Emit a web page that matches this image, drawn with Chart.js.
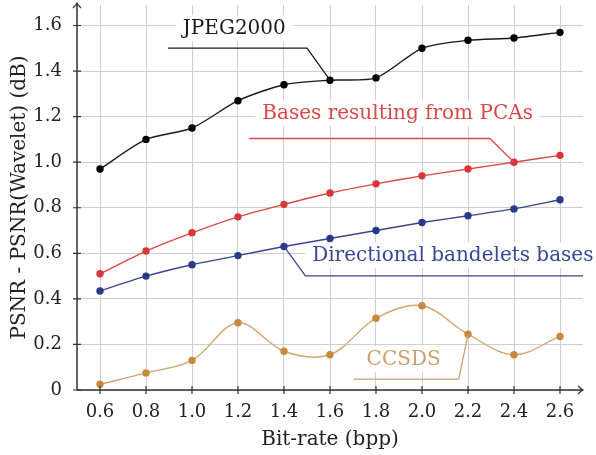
<!DOCTYPE html>
<html>
<head>
<meta charset="utf-8">
<script src="https://cdn.jsdelivr.net/npm/chart.js@4/dist/chart.umd.min.js"></script>
<style>
  html, body { margin: 0; padding: 0; background: #fff; }
  #wrap { width: 596px; height: 455px; position: relative; }
</style>
</head>
<body>
<div id="wrap"><canvas id="chart"></canvas></div>
<script>
// values
const bitRates = [0.6, 0.8, 1.0, 1.2, 1.4, 1.6, 1.8, 2.0, 2.2, 2.4, 2.6];
const jpeg2000 = [0.97, 1.10, 1.15, 1.27, 1.34, 1.36, 1.37, 1.50, 1.535, 1.545, 1.57];
const pcaBases = [0.51, 0.61, 0.69, 0.76, 0.815, 0.865, 0.905, 0.94, 0.97, 1.0, 1.03];
const bandelets = [0.435, 0.50, 0.55, 0.59, 0.63, 0.665, 0.70, 0.735, 0.765, 0.795, 0.835];
const ccsds = [0.025, 0.075, 0.13, 0.295, 0.17, 0.155, 0.315, 0.37, 0.245, 0.155, 0.235];

const xTicks = [0.6, 0.8, 1.0, 1.2, 1.4, 1.6, 1.8, 2.0, 2.2, 2.4, 2.6];
const xTickLabels = ["0.6", "0.8", "1.0", "1.2", "1.4", "1.6", "1.8", "2.0", "2.2", "2.4", "2.6"];
const yTicks = [0, 0.2, 0.4, 0.6, 0.8, 1.0, 1.2, 1.4, 1.6];
const yTickLabels = ["0", "0.2", "0.4", "0.6", "0.8", "1.0", "1.2", "1.4", "1.6"];

const FONT = "'DejaVu Serif', 'Liberation Serif', serif";
const AXIS = "#333";

function series(values) {
    return values.map((v, i) => ({ x: bitRates[i], y: v }));
}

function ds(label, values, color, pointColor, tension) {
    return {
        label, data: series(values),
        borderColor: color, backgroundColor: pointColor,
        pointBackgroundColor: pointColor, pointBorderColor: pointColor,
        borderWidth: 1.4, pointRadius: 3, pointHoverRadius: 3,
        tension, fill: false,
    };
}

// callouts: text centre, leader path (data units), last point is the marker
const callouts = [
    { text: "JPEG2000", color: "#1a1a1a", line: "#1a1a1a", at: [1.184, 1.588],
      path: [[0.896, 1.501], [1.50, 1.501], [1.6, 1.36]] },
    { text: "Bases resulting from PCAs", color: "#d94848", line: "#e04848", at: [1.894, 1.215],
      path: [[1.249, 1.104], [2.295, 1.104], [2.4, 1.0]] },
    { text: "Directional bandelets bases", color: "#3a4794", line: "#3a4690", at: [2.134, 0.592],
      path: [[2.70, 0.501], [1.493, 0.501], [1.4, 0.63]] },
    { text: "CCSDS", color: "#c9a06e", line: "#d0a070", at: [1.92, 0.136],
      path: [[1.702, 0.048], [2.16, 0.048], [2.2, 0.245]] },
];

const calloutPlugin = {
    id: "callouts",
    beforeDatasetsDraw(chart) {
        const { ctx, scales: { x, y } } = chart;
        ctx.save();
        ctx.font = `20px ${FONT}`;
        callouts.forEach(c => {
            const w = ctx.measureText(c.text).width + 14;
            const cx = x.getPixelForValue(c.at[0]);
            const cy = y.getPixelForValue(c.at[1]);
            ctx.fillStyle = "#fff";
            ctx.fillRect(cx - w / 2, cy - 13, w, 26);
        });
        ctx.restore();
    },
    afterDatasetsDraw(chart) {
        const { ctx, scales: { x, y } } = chart;
        ctx.save();
        ctx.font = `20px ${FONT}`;
        ctx.textAlign = "center";
        ctx.textBaseline = "middle";
        callouts.forEach(c => {
            ctx.strokeStyle = c.line;
            ctx.lineWidth = 1.3;
            ctx.beginPath();
            c.path.forEach((p, i) => {
                const px = x.getPixelForValue(p[0]);
                const py = y.getPixelForValue(p[1]);
                if (i === 0) { ctx.moveTo(px, py); } else { ctx.lineTo(px, py); }
            });
            ctx.stroke();
            ctx.fillStyle = c.color;
            ctx.fillText(c.text, x.getPixelForValue(c.at[0]), y.getPixelForValue(c.at[1]) + 1);
        });
        ctx.restore();
    },
};

const axesPlugin = {
    id: "arrowAxes",
    afterDraw(chart) {
        const { ctx, chartArea: a, scales: { x, y } } = chart;
        ctx.save();
        ctx.strokeStyle = AXIS;
        ctx.lineWidth = 1.5;
        ctx.beginPath();
        ctx.moveTo(a.left, a.bottom); ctx.lineTo(a.right, a.bottom);
        ctx.moveTo(a.left, a.bottom); ctx.lineTo(a.left, a.top - 2);
        ctx.stroke();
        ctx.lineWidth = 1.2;
        ctx.beginPath();
        ctx.moveTo(a.right - 5, a.bottom - 4); ctx.quadraticCurveTo(a.right - 2, a.bottom - 1, a.right, a.bottom);
        ctx.quadraticCurveTo(a.right - 2, a.bottom + 1, a.right - 5, a.bottom + 4);
        ctx.moveTo(a.left - 4, a.top + 3); ctx.quadraticCurveTo(a.left - 1, a.top, a.left, a.top - 2);
        ctx.quadraticCurveTo(a.left + 1, a.top, a.left + 4, a.top + 3);
        ctx.stroke();
        ctx.lineWidth = 1.2;
        ctx.beginPath();
        xTicks.forEach(v => {
            const px = x.getPixelForValue(v);
            ctx.moveTo(px, a.bottom - 4); ctx.lineTo(px, a.bottom + 4);
        });
        yTicks.forEach(v => {
            const py = y.getPixelForValue(v);
            ctx.moveTo(a.left - 4, py); ctx.lineTo(a.left + 4, py);
        });
        ctx.stroke();
        ctx.restore();
    },
};

new Chart(document.getElementById("chart"), {
    type: "line",
    data: {
        datasets: [
            ds("JPEG2000", jpeg2000, "#1a1a1a", "#000", 0.25),
            ds("Bases resulting from PCAs", pcaBases, "#e04848", "#d83838", 0.25),
            ds("Directional bandelets bases", bandelets, "#3a4690", "#2a3a88", 0.25),
            ds("CCSDS", ccsds, "#d4a574", "#c8893c", 0.35),
        ],
    },
    options: {
        responsive: true, maintainAspectRatio: false, animation: false,
        layout: { padding: { top: 5, right: 13, left: 0, bottom: 0 } },
        plugins: { legend: { display: false }, tooltip: { enabled: false } },
        scales: {
            x: {
                type: "linear", min: 0.5, max: 2.7,
                afterBuildTicks: s => { s.ticks = xTicks.map(v => ({ value: v })); },
                afterFit: s => { s.height = 65; s.paddingLeft = 0; s.paddingRight = 0; },
                grid: { color: "#cfcfcf", lineWidth: 1, drawTicks: false },
                border: { display: false },
                ticks: { color: "#222", padding: 12, maxRotation: 0,
                    font: { family: FONT, size: 18 },
                    callback: (v, i) => xTickLabels[i] },
                title: { display: true, text: "Bit-rate (bpp)", color: "#222",
                    font: { family: FONT, size: 20 }, padding: { top: 0, bottom: 3 } },
            },
            y: {
                type: "linear", min: 0, max: 1.69,
                afterBuildTicks: s => { s.ticks = yTicks.map(v => ({ value: v })); },
                afterFit: s => { s.width = 77; s.paddingTop = 0; s.paddingBottom = 0; },
                grid: { color: "#cfcfcf", lineWidth: 1, drawTicks: false },
                border: { display: false },
                ticks: { color: "#222", padding: 15,
                    font: { family: FONT, size: 18 },
                    callback: (v, i) => yTickLabels[i] },
                title: { display: true, text: "PSNR - PSNR(Wavelet) (dB)", color: "#222",
                    font: { family: FONT, size: 20 }, padding: { top: 8, bottom: 0 } },
            },
        },
    },
    plugins: [calloutPlugin, axesPlugin],
});
</script>
</body>
</html>
